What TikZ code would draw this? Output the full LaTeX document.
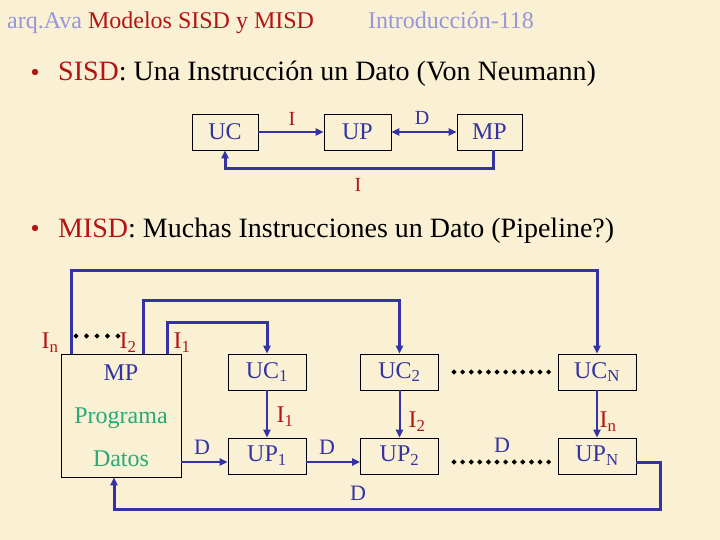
\documentclass[tikz,border=0pt]{standalone}
\usepackage{fontspec}
\setmainfont{Liberation Serif}
\usetikzlibrary{arrows.meta}
\definecolor{fondo}{RGB}{250,240,212}
\definecolor{azul}{RGB}{51,51,165}
\definecolor{rojo}{RGB}{180,20,20}
\definecolor{lila}{RGB}{150,150,220}
\definecolor{verde}{RGB}{40,170,120}
\tikzset{
caja/.style={draw, line width=0.8pt, text=azul, minimum width=78pt, minimum height=36pt, inner sep=0pt, font=\fontsize{24}{24}\selectfont},
etiq/.style={text=rojo, inner sep=0pt, font=\fontsize{24}{24}\selectfont},
etiqD/.style={text=azul, inner sep=0pt, font=\fontsize{22}{22}\selectfont},
texto/.style={anchor=base west, inner sep=0pt},
punto/.style={fill=black}}

\begin{document}
\begin{tikzpicture}[x=1pt,y=-1pt, >={Triangle[length=8pt,width=7pt]},
  flecha/.style={->,draw=azul,line width=2pt}, lazo/.style={->,draw=azul,line width=3pt}]
\fill[fondo] (0,0) rectangle (720,540);
\useasboundingbox (0,0) rectangle (720,540);
% cabecera
\node[texto, text=lila, font=\fontsize{24}{24}\selectfont] (cab) at (7,29) {arq.Ava \textcolor{rojo}{Modelos SISD y MISD}};
\node[texto, text=lila, font=\fontsize{24}{24}\selectfont] (pag) at (368,29) {Introducción-118};
\fill[rojo] (35,72) circle (3.2pt);
\node[texto, font=\fontsize{28}{28}\selectfont] (sisd) at (58,81) {\textcolor{rojo}{SISD}: Una Instrucción un Dato (Von Neumann)};
\fill[rojo] (35,228) circle (3.2pt);
\node[texto, font=\fontsize{28}{28}\selectfont] (misd) at (58,237) {\textcolor{rojo}{MISD}: Muchas Instrucciones un Dato (Pipeline?)};
% SISD
\node[caja, minimum width=66pt] (UC) at (225,132) {UC};
\node[caja, minimum width=67pt] (UP) at (357.5,132) {UP};
\node[caja, minimum width=65pt] (MP) at (489.5,132) {MP};
\draw[flecha] (UC) -- (UP);
\draw[flecha,<->] (UP) -- (MP);
\draw[lazo] ([xshift=4pt]MP.south) -- ++(0,18) -| (UC.south);
\node[etiq, font=\fontsize{20}{20}\selectfont] (i) at (292,119) {I};
\node[etiqD, font=\fontsize{20}{20}\selectfont] (d) at (422,118) {D};
\node[etiq, font=\fontsize{20}{20}\selectfont] (ii) at (358,185) {I};
% MISD
\node[caja, minimum width=120pt, minimum height=123pt, font=\fontsize{24}{43}\selectfont, align=center] (MPr) at (121,415.5)
  {MP\\\textcolor{verde}{Programa}\\\textcolor{verde}{Datos}};
\node[caja] (UC1) at (267,372) {UC\textsubscript{1}};
\node[caja] (UP1) at (267,456) {UP\textsubscript{1}};
\node[caja] (UC2) at (399.5,372) {UC\textsubscript{2}};
\node[caja] (UP2) at (399.5,456) {UP\textsubscript{2}};
\node[caja] (UCN) at (597,372) {UC\textsubscript{N}};
\node[caja] (UPN) at (597,456) {UP\textsubscript{N}};
\draw[lazo] ([xshift=11pt]MPr.north west) -- ++(0,-83) -| (UCN.north);
\draw[lazo] ([xshift=83pt]MPr.north west) -- ++(0,-53) -| (UC2.north);
\draw[lazo] ([xshift=107pt]MPr.north west) -- ++(0,-31) -| (UC1.north);
\draw[flecha] (UC1) -- (UP1);
\draw[flecha] (UC2) -- (UP2);
\draw[flecha] (UCN) -- (UPN);
\draw[flecha] ([yshift=-6pt]UP1.west -| MPr.east) -- ([yshift=-6pt]UP1.west);
\draw[flecha] ([yshift=-6pt]UP1.east) -- ([yshift=-6pt]UP2.west);
\draw[lazo] ([yshift=-6pt]UPN.east) -- ++(24,0) -- ++(0,47) -| ([xshift=-7pt]MPr.south);
% puntos
\foreach \x in {454,462.6,...,549} {
  \fill[punto] (\x,372) +(-2.6,0) -- +(0,-2.6) -- +(2.6,0) -- +(0,2.6) -- cycle;
  \fill[punto] (\x,462) +(-2.6,0) -- +(0,-2.6) -- +(2.6,0) -- +(0,2.6) -- cycle;
}
\foreach \x in {76,86.5,...,118}
  \fill[punto] (\x,336) +(-2.6,0) -- +(0,-2.6) -- +(2.6,0) -- +(0,2.6) -- cycle;
% etiquetas
\node[etiq] (In) at (50,343) {I\textsubscript{n}};
\node[etiq] (I2) at (128,343) {I\textsubscript{2}};
\node[etiq] (I1) at (182,343) {I\textsubscript{1}};
\node[etiq] (I1b) at (285,417) {I\textsubscript{1}};
\node[etiq] (I2b) at (417,422) {I\textsubscript{2}};
\node[etiq] (Inb) at (608,422) {I\textsubscript{n}};
\node[etiqD] (d1) at (202,447) {D};
\node[etiqD] (d2) at (327,447) {D};
\node[etiqD] (d3) at (502,445) {D};
\node[etiqD] (d4) at (358,493) {D};
\end{tikzpicture}
\end{document}
